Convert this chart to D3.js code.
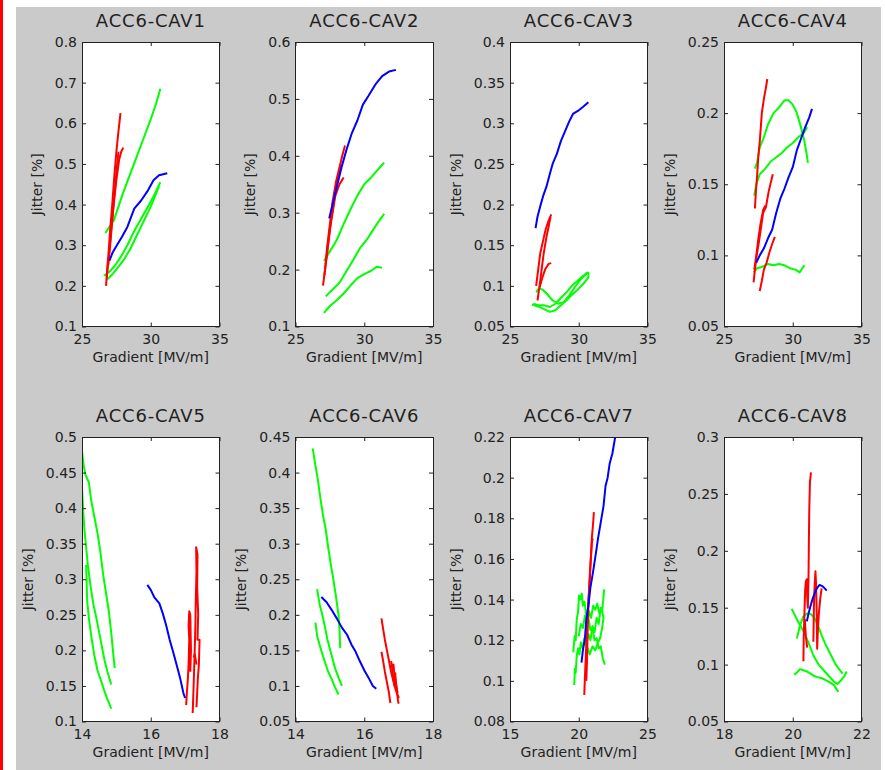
<!DOCTYPE html>
<html>
<head>
<meta charset="utf-8">
<script src="https://cdn.jsdelivr.net/npm/d3@7"></script>
<style>
  html, body { margin: 0; padding: 0; background: #fff; }
  svg { display: block; }
  text { font-family: "DejaVu Sans", sans-serif; fill: #222; }
</style>
</head>
<body>
<svg id="chart" width="885" height="770"></svg>
<script>
// 每个子图的标题、坐标范围和刻度
const titles = ['ACC6-CAV1', 'ACC6-CAV2', 'ACC6-CAV3', 'ACC6-CAV4',
                'ACC6-CAV5', 'ACC6-CAV6', 'ACC6-CAV7', 'ACC6-CAV8'];
const xDomains = [[25, 35], [25, 35], [25, 35], [25, 35],
                  [14, 18], [14, 18], [15, 25], [18, 22]];
const xTicks = [[25, 30, 35], [25, 30, 35], [25, 30, 35], [25, 30, 35],
                [14, 16, 18], [14, 16, 18], [15, 20, 25], [18, 20, 22]];
const yTicks = [
  [0.1, 0.2, 0.3, 0.4, 0.5, 0.6, 0.7, 0.8],
  [0.1, 0.2, 0.3, 0.4, 0.5, 0.6],
  [0.05, 0.1, 0.15, 0.2, 0.25, 0.3, 0.35, 0.4],
  [0.05, 0.1, 0.15, 0.2, 0.25],
  [0.1, 0.15, 0.2, 0.25, 0.3, 0.35, 0.4, 0.45, 0.5],
  [0.05, 0.1, 0.15, 0.2, 0.25, 0.3, 0.35, 0.4, 0.45],
  [0.08, 0.1, 0.12, 0.14, 0.16, 0.18, 0.2, 0.22],
  [0.05, 0.1, 0.15, 0.2, 0.25, 0.3]
];

// 曲线数据 [Gradient, Jitter]
const cav1Green = [
  [[26.7,0.33],[27.0,0.345],[27.3,0.36],[27.7,0.4],[28.0,0.43],[28.5,0.475],[29.0,0.52],[29.5,0.565],[30.0,0.61],[30.4,0.65],[30.7,0.685]],
  [[26.6,0.225],[27.0,0.235],[27.4,0.25],[27.8,0.27],[28.3,0.3],[28.8,0.335],[29.3,0.365],[29.8,0.395],[30.2,0.42],[30.7,0.455]],
  [[26.8,0.215],[27.2,0.228],[27.6,0.245],[28.0,0.262],[28.5,0.29],[29.0,0.325],[29.5,0.36],[30.0,0.395],[30.3,0.42],[30.6,0.445]]
];
const cav1Red = [
  [[26.75,0.2],[26.85,0.25],[26.95,0.29],[27.05,0.34],[27.2,0.4],[27.35,0.47],[27.5,0.53],[27.65,0.58],[27.8,0.625]],
  [[26.8,0.22],[26.95,0.27],[27.1,0.33],[27.3,0.4],[27.5,0.46],[27.7,0.51],[27.85,0.53],[28.0,0.54]],
  [[26.9,0.25],[27.05,0.3],[27.2,0.36],[27.35,0.42],[27.5,0.48],[27.65,0.53]]
];
const cav1Blue = [
  [[27.0,0.262],[27.2,0.28],[27.45,0.295],[27.9,0.32],[28.3,0.345],[28.8,0.39],[29.3,0.41],[29.8,0.435],[30.2,0.46],[30.6,0.472],[31.2,0.477]]
];

const cav2Green = [
  [[27.07,0.215],[27.5,0.232],[28.0,0.252],[28.5,0.28],[29.0,0.306],[29.5,0.33],[30.0,0.35],[30.5,0.362],[31.0,0.376],[31.45,0.388]],
  [[27.2,0.153],[27.7,0.165],[28.2,0.177],[28.7,0.197],[29.2,0.217],[29.7,0.238],[30.2,0.253],[30.6,0.268],[31.0,0.283],[31.45,0.298]],
  [[27.07,0.124],[27.5,0.136],[28.0,0.146],[28.5,0.158],[29.0,0.172],[29.5,0.185],[30.0,0.192],[30.5,0.198],[30.9,0.205],[31.3,0.203]]
];
const cav2Red = [
  [[27.0,0.172],[27.15,0.2],[27.3,0.24],[27.5,0.28],[27.7,0.32],[27.95,0.355],[28.2,0.38],[28.4,0.4],[28.6,0.418]],
  [[27.1,0.19],[27.3,0.23],[27.5,0.27],[27.7,0.3],[27.9,0.33],[28.2,0.35],[28.5,0.362]],
  [[27.2,0.21],[27.4,0.25],[27.6,0.29],[27.85,0.33],[28.1,0.36],[28.3,0.385]]
];
const cav2Blue = [
  [[27.45,0.29],[27.7,0.315],[28.0,0.345],[28.35,0.38],[28.7,0.41],[29.1,0.44],[29.5,0.462],[29.9,0.49],[30.3,0.505],[30.8,0.525],[31.3,0.54],[31.8,0.548],[32.3,0.551]]
];

const cav3Green = [
  [[26.6,0.077],[27.0,0.075],[27.4,0.072],[27.9,0.068],[28.3,0.07],[28.7,0.076],[29.1,0.082],[29.5,0.089],[29.9,0.095],[30.3,0.102],[30.7,0.11],[30.7,0.117]],
  [[26.9,0.092],[27.1,0.097],[27.4,0.095],[27.7,0.09],[28.1,0.082],[28.5,0.078],[28.9,0.08],[29.3,0.088],[29.7,0.098],[30.1,0.107],[30.5,0.114],[30.7,0.117]],
  [[26.7,0.078],[27.1,0.076],[27.5,0.076],[27.9,0.074],[28.3,0.078],[28.7,0.085],[29.1,0.092],[29.5,0.1],[29.9,0.106],[30.3,0.112],[30.6,0.116]]
];
const cav3Red = [
  [[26.9,0.1],[27.05,0.12],[27.2,0.14],[27.4,0.155],[27.6,0.17],[27.8,0.18],[28.0,0.188]],
  [[27.0,0.082],[27.15,0.1],[27.3,0.12],[27.45,0.14],[27.65,0.16],[27.8,0.172],[27.95,0.185]],
  [[27.15,0.098],[27.35,0.11],[27.55,0.12],[27.8,0.127],[28.0,0.128]]
];
const cav3Blue = [
  [[26.86,0.171],[27.0,0.185],[27.2,0.198],[27.4,0.21],[27.65,0.222],[27.9,0.238],[28.1,0.25],[28.4,0.262],[28.7,0.278],[29.0,0.29],[29.3,0.302],[29.6,0.312],[30.0,0.316],[30.3,0.32],[30.7,0.326]]
];

const cav4Green = [
  [[27.25,0.161],[27.4,0.165],[27.6,0.176],[27.9,0.183],[28.2,0.192],[28.6,0.2],[29.0,0.204],[29.4,0.209],[29.7,0.209],[30.0,0.206],[30.3,0.2],[30.6,0.19],[30.85,0.18],[31.0,0.172],[31.1,0.165]],
  [[27.2,0.142],[27.35,0.15],[27.6,0.157],[28.0,0.161],[28.4,0.166],[28.8,0.169],[29.2,0.172],[29.6,0.176],[30.0,0.179],[30.4,0.183],[30.8,0.186],[31.05,0.19]],
  [[27.15,0.088],[27.4,0.091],[27.8,0.092],[28.2,0.094],[28.6,0.093],[29.0,0.094],[29.4,0.093],[29.8,0.091],[30.2,0.09],[30.5,0.088],[30.7,0.091],[30.85,0.093]]
];
const cav4Red = [
  [[27.25,0.133],[27.32,0.145],[27.4,0.155],[27.5,0.17],[27.6,0.18],[27.75,0.2],[27.9,0.21],[28.05,0.218],[28.15,0.224]],
  [[27.15,0.081],[27.25,0.09],[27.38,0.1],[27.55,0.11],[27.7,0.12],[27.85,0.13],[28.05,0.134],[28.25,0.145],[28.55,0.157]],
  [[27.6,0.075],[27.75,0.082],[27.9,0.09],[28.1,0.095],[28.3,0.102],[28.5,0.108],[28.7,0.113]],
  [[27.2,0.09],[27.35,0.1],[27.5,0.112],[27.65,0.122],[27.85,0.132],[28.0,0.135]]
];
const cav4Blue = [
  [[27.35,0.095],[27.6,0.1],[27.9,0.105],[28.2,0.112],[28.5,0.118],[28.8,0.13],[29.1,0.14],[29.4,0.147],[29.7,0.155],[30.0,0.162],[30.3,0.174],[30.6,0.182],[30.9,0.19],[31.2,0.197],[31.4,0.203]]
];

const cav5Green = [
  [[14.0,0.48],[14.05,0.46],[14.1,0.447],[14.2,0.436],[14.27,0.41],[14.35,0.39],[14.45,0.365],[14.53,0.34],[14.62,0.305],[14.7,0.28],[14.78,0.255],[14.85,0.225],[14.9,0.2],[14.95,0.175]],
  [[14.0,0.43],[14.03,0.4],[14.07,0.37],[14.12,0.345],[14.17,0.32],[14.25,0.29],[14.33,0.265],[14.42,0.245],[14.5,0.225],[14.58,0.205],[14.66,0.185],[14.74,0.17],[14.85,0.152]],
  [[14.12,0.32],[14.15,0.27],[14.2,0.245],[14.27,0.22],[14.35,0.195],[14.45,0.172],[14.55,0.158],[14.65,0.143],[14.75,0.13],[14.85,0.118]]
];
const cav5Red = [
  [[17.03,0.123],[17.05,0.14],[17.08,0.16],[17.1,0.18],[17.12,0.215],[17.1,0.235],[17.12,0.255],[17.15,0.25],[17.17,0.2],[17.15,0.17]],
  [[17.22,0.112],[17.24,0.14],[17.26,0.17],[17.28,0.2],[17.3,0.24],[17.31,0.27],[17.33,0.31],[17.32,0.345],[17.36,0.335],[17.35,0.29],[17.38,0.25],[17.36,0.215],[17.42,0.215],[17.4,0.18],[17.37,0.16],[17.33,0.12]],
  [[17.25,0.19],[17.28,0.195],[17.33,0.18]]
];
const cav5Blue = [
  [[15.9,0.292],[16.0,0.285],[16.1,0.275],[16.25,0.266],[16.35,0.252],[16.45,0.235],[16.55,0.215],[16.65,0.198],[16.75,0.18],[16.85,0.162],[16.95,0.14],[17.0,0.133]]
];

const cav6Green = [
  [[14.5,0.434],[14.58,0.41],[14.65,0.39],[14.72,0.365],[14.8,0.34],[14.88,0.32],[14.95,0.295],[15.03,0.27],[15.1,0.25],[15.18,0.225],[15.25,0.2],[15.28,0.18],[15.3,0.153]],
  [[14.63,0.236],[14.7,0.215],[14.78,0.2],[14.86,0.182],[14.93,0.165],[15.0,0.152],[15.08,0.138],[15.15,0.125],[15.25,0.112],[15.35,0.1]],
  [[14.58,0.189],[14.63,0.17],[14.7,0.158],[14.78,0.145],[14.86,0.133],[14.95,0.12],[15.05,0.11],[15.15,0.098],[15.25,0.088]]
];
const cav6Red = [
  [[16.5,0.195],[16.55,0.18],[16.6,0.165],[16.66,0.15],[16.72,0.135],[16.78,0.12],[16.84,0.108],[16.9,0.097],[16.96,0.088],[17.01,0.083]],
  [[16.5,0.148],[16.55,0.135],[16.6,0.12],[16.66,0.105],[16.72,0.09],[16.76,0.076]],
  [[16.78,0.135],[16.82,0.125],[16.85,0.13],[16.88,0.115],[16.92,0.105],[16.95,0.095],[16.98,0.08],[17.0,0.075]],
  [[16.8,0.13],[16.84,0.112],[16.88,0.1],[16.9,0.118],[16.93,0.1],[16.97,0.09]]
];
const cav6Blue = [
  [[14.75,0.225],[14.9,0.218],[15.05,0.207],[15.2,0.195],[15.35,0.182],[15.5,0.172],[15.63,0.158],[15.75,0.148],[15.87,0.135],[16.0,0.122],[16.12,0.112],[16.25,0.1],[16.35,0.096]]
];

const cav7Green = [
  [[19.67,0.098],[19.72,0.106],[19.78,0.104],[19.85,0.112],[19.95,0.116],[20.05,0.113],[20.15,0.119],[20.3,0.116],[20.4,0.121],[20.55,0.118],[20.7,0.123],[20.85,0.12],[21.0,0.127],[21.15,0.124],[21.3,0.131],[21.45,0.128],[21.6,0.136],[21.7,0.134],[21.85,0.145]],
  [[19.6,0.114],[19.7,0.122],[19.78,0.12],[19.85,0.13],[19.95,0.134],[20.02,0.142],[20.12,0.14],[20.22,0.143],[20.3,0.137],[20.42,0.139],[20.55,0.132],[20.7,0.131],[20.85,0.125],[21.0,0.126],[21.15,0.12],[21.3,0.121],[21.45,0.116],[21.6,0.117],[21.75,0.111],[21.9,0.108]],
  [[20.0,0.122],[20.15,0.128],[20.3,0.126],[20.45,0.132],[20.6,0.128],[20.75,0.134],[20.9,0.131],[21.05,0.137],[21.2,0.135],[21.35,0.138],[21.5,0.133],[21.65,0.136],[21.8,0.131],[21.7,0.126],[21.55,0.121],[21.4,0.119],[21.2,0.115],[21.0,0.117],[20.8,0.113],[20.6,0.117],[20.4,0.119],[20.25,0.116]]
];
const cav7Red = [
  [[20.4,0.093],[20.45,0.102],[20.5,0.11],[20.55,0.118],[20.6,0.127],[20.68,0.137],[20.75,0.145],[20.82,0.154],[20.9,0.163],[20.96,0.171],[21.05,0.178],[21.1,0.183]],
  [[20.55,0.1],[20.6,0.11],[20.65,0.125],[20.72,0.14],[20.8,0.15],[20.88,0.16],[20.95,0.168],[21.02,0.17]]
];
const cav7Blue = [
  [[20.2,0.109],[20.3,0.115],[20.45,0.121],[20.55,0.13],[20.7,0.137],[20.85,0.146],[21.05,0.154],[21.25,0.163],[21.4,0.17],[21.6,0.178],[21.8,0.186],[21.95,0.196],[22.1,0.2],[22.25,0.207],[22.45,0.212],[22.65,0.22]]
];

const cav8Green = [
  [[19.97,0.149],[20.15,0.138],[20.3,0.13],[20.45,0.12],[20.6,0.108],[20.75,0.1],[20.9,0.095],[21.05,0.09],[21.2,0.085],[21.3,0.083],[21.4,0.086],[21.5,0.09],[21.57,0.094]],
  [[20.12,0.123],[20.2,0.133],[20.3,0.142],[20.42,0.145],[20.55,0.144],[20.65,0.14],[20.75,0.133],[20.85,0.125],[20.95,0.118],[21.05,0.112],[21.15,0.106],[21.25,0.1],[21.35,0.096],[21.45,0.092]],
  [[20.04,0.091],[20.12,0.093],[20.21,0.096],[20.31,0.095],[20.41,0.094],[20.52,0.092],[20.62,0.09],[20.72,0.089],[20.85,0.088],[20.99,0.086],[21.1,0.084],[21.2,0.082],[21.28,0.078],[21.33,0.076]]
];
const cav8Red = [
  [[20.31,0.103],[20.32,0.125],[20.34,0.145],[20.36,0.165],[20.38,0.173],[20.41,0.175],[20.42,0.16],[20.44,0.15],[20.46,0.18],[20.47,0.21],[20.48,0.235],[20.5,0.26],[20.53,0.269]],
  [[20.6,0.12],[20.61,0.14],[20.62,0.157],[20.64,0.172],[20.66,0.182],[20.68,0.17],[20.7,0.14],[20.71,0.114],[20.73,0.13],[20.76,0.145],[20.8,0.158],[20.84,0.167]],
  [[20.35,0.14],[20.38,0.125],[20.42,0.115]]
];
const cav8Blue = [
  [[20.41,0.138],[20.46,0.145],[20.52,0.152],[20.58,0.158],[20.64,0.163],[20.7,0.167],[20.78,0.17],[20.86,0.169],[20.93,0.167],[20.99,0.165]]
];

const greens = [cav1Green, cav2Green, cav3Green, cav4Green, cav5Green, cav6Green, cav7Green, cav8Green];
const reds = [cav1Red, cav2Red, cav3Red, cav4Red, cav5Red, cav6Red, cav7Red, cav8Red];
const blues = [cav1Blue, cav2Blue, cav3Blue, cav4Blue, cav5Blue, cav6Blue, cav7Blue, cav8Blue];

// 版面
const colLeft = [82, 295.5, 510, 724];
const rowTop = [42, 437];
const plotW = 137.5;
const plotH = 284.5;
const tickLen = 4;

const svg = d3.select('#chart');

// 左侧红条和白边，灰色底
svg.append('rect').attr('x', 0).attr('y', 0).attr('width', 885).attr('height', 770).attr('fill', '#fff');
svg.append('rect').attr('x', 0).attr('y', 0).attr('width', 3).attr('height', 770).attr('fill', '#ff0000');
svg.append('rect').attr('x', 16).attr('y', 7).attr('width', 865).attr('height', 763).attr('fill', '#cacaca');

const line = d3.line();

titles.forEach((title, i) => {
  const left = colLeft[i % 4];
  const top = rowTop[Math.floor(i / 4)];
  const yt = yTicks[i];

  const x = d3.scaleLinear().domain(xDomains[i]).range([0, plotW]);
  const y = d3.scaleLinear().domain([yt[0], yt[yt.length - 1]]).range([plotH, 0]);

  const g = svg.append('g').attr('transform', `translate(${left},${top})`);

  g.append('rect')
    .attr('width', plotW)
    .attr('height', plotH)
    .attr('fill', '#fff');

  // 曲线（裁剪到绘图区）
  const clipId = `clip${i}`;
  g.append('clipPath').attr('id', clipId)
    .append('rect').attr('width', plotW).attr('height', plotH);
  const lines = g.append('g').attr('clip-path', `url(#${clipId})`);
  line.x(d => x(d[0])).y(d => y(d[1]));

  [[greens[i], '#00ff00'], [reds[i], '#ff0000'], [blues[i], '#0000ff']].forEach(([traces, color]) => {
    lines.selectAll(null)
      .data(traces)
      .enter()
      .append('path')
      .attr('d', line)
      .attr('fill', 'none')
      .attr('stroke', color)
      .attr('stroke-width', 2)
      .attr('stroke-linejoin', 'round');
  });

  // 坐标轴
  const fmt = d => String(d);
  const axL = g.append('g')
    .call(d3.axisLeft(y).tickValues(yt).tickFormat(fmt).tickSizeInner(-tickLen).tickSizeOuter(0).tickPadding(5));
  const axB = g.append('g').attr('transform', `translate(0,${plotH})`)
    .call(d3.axisBottom(x).tickValues(xTicks[i]).tickFormat(fmt).tickSizeInner(-tickLen).tickSizeOuter(0).tickPadding(8));
  const axR = g.append('g').attr('transform', `translate(${plotW},0)`)
    .call(d3.axisRight(y).tickValues(yt).tickFormat('').tickSizeInner(-tickLen).tickSizeOuter(0));
  const axT = g.append('g')
    .call(d3.axisTop(x).tickValues(xTicks[i]).tickFormat('').tickSizeInner(-tickLen).tickSizeOuter(0));

  [axL, axB, axR, axT].forEach(ax => {
    ax.select('.domain').remove();
    ax.selectAll('line').attr('stroke', '#222');
    ax.selectAll('text')
      .attr('font-family', '"DejaVu Sans", sans-serif')
      .attr('font-size', 14)
      .attr('fill', '#222');
  });

  g.append('rect')
    .attr('width', plotW)
    .attr('height', plotH)
    .attr('fill', 'none')
    .attr('stroke', '#222')
    .attr('stroke-width', 1)
    .attr('shape-rendering', 'crispEdges');

  // 标题和轴标签
  g.append('text')
    .attr('x', plotW / 2)
    .attr('y', -15)
    .attr('text-anchor', 'middle')
    .attr('font-size', 18)
    .attr('letter-spacing', 0.8)
    .text(title);

  g.append('text')
    .attr('x', plotW / 2)
    .attr('y', plotH + 35)
    .attr('text-anchor', 'middle')
    .attr('font-size', 14)
    .text('Gradient [MV/m]');

  let maxW = 0;
  axL.selectAll('text').each(function () {
    maxW = Math.max(maxW, this.getComputedTextLength());
  });
  const yLabX = -(5 + maxW + 18);
  g.append('text')
    .attr('transform', `translate(${yLabX},${plotH / 2}) rotate(-90)`)
    .attr('text-anchor', 'middle')
    .attr('dy', '0.35em')
    .attr('font-size', 14)
    .text('Jitter [%]');
});
</script>
</body>
</html>
